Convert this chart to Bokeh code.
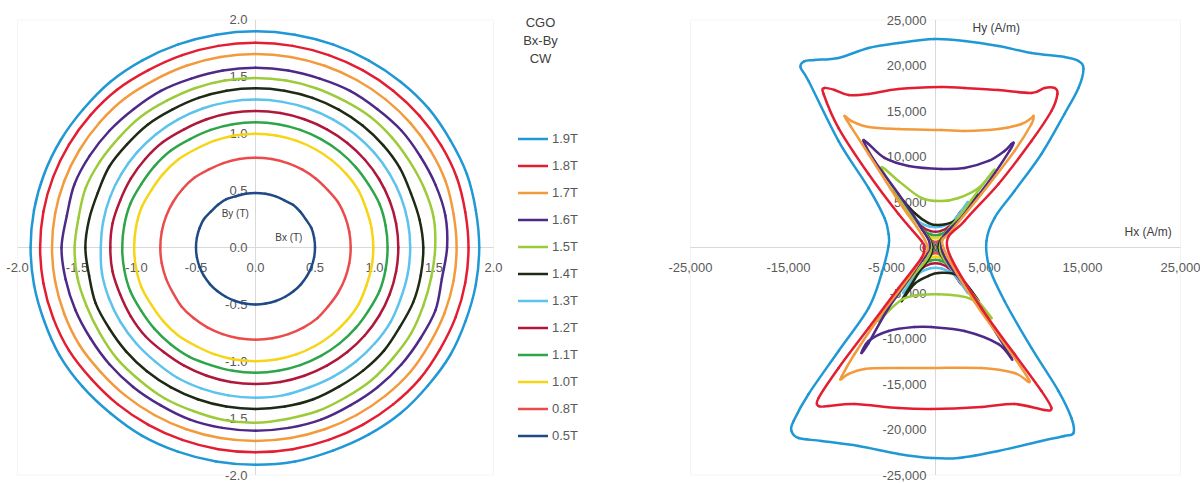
import numpy as np
from bokeh.plotting import figure
from bokeh.models import ColumnDataSource, LabelSet, Label, Legend, LegendItem, BoxAnnotation
from bokeh.layouts import row
from bokeh.embed import file_html
from bokeh.resources import INLINE
from bokeh.core.properties import value

# ---------------- data ----------------
series_names = ["1.9T", "1.8T", "1.7T", "1.6T", "1.5T", "1.4T",
                "1.3T", "1.2T", "1.1T", "1.0T", "0.8T", "0.5T"]
series_colors = ["#1F98D5", "#E41E32", "#F39A3C", "#4E2A88", "#9CCB3A", "#1E2A16",
                 "#5CC3EC", "#B0173A", "#2EA548", "#F5D515", "#EC4B4B", "#1F4A86"]

# left chart: Bx-By loci, radius (T) read every 10 degrees (0..350, CCW from +Bx)
angle_deg = [0, 10, 20, 30, 40, 50, 60, 70, 80, 90, 100, 110, 120, 130, 140, 150, 160, 170,
             180, 190, 200, 210, 220, 230, 240, 250, 260, 270, 280, 290, 300, 310, 320, 330, 340, 350]
r_19 = [1.88, 1.88, 1.89, 1.89, 1.90, 1.90, 1.90, 1.90, 1.90, 1.90, 1.90, 1.90, 1.90, 1.90, 1.89, 1.89, 1.89, 1.89,
        1.89, 1.89, 1.89, 1.90, 1.90, 1.90, 1.91, 1.91, 1.91, 1.91, 1.91, 1.90, 1.90, 1.90, 1.89, 1.89, 1.88, 1.88]
r_18 = [1.79, 1.79, 1.80, 1.80, 1.80, 1.80, 1.80, 1.80, 1.80, 1.80, 1.80, 1.80, 1.80, 1.81, 1.81, 1.81, 1.81, 1.81,
        1.81, 1.81, 1.81, 1.81, 1.80, 1.80, 1.80, 1.80, 1.80, 1.80, 1.80, 1.80, 1.80, 1.80, 1.80, 1.79, 1.79, 1.79]
r_17 = [1.69, 1.69, 1.70, 1.70, 1.70, 1.70, 1.70, 1.70, 1.70, 1.70, 1.70, 1.70, 1.70, 1.71, 1.71, 1.71, 1.71, 1.71,
        1.71, 1.71, 1.71, 1.71, 1.70, 1.70, 1.70, 1.70, 1.70, 1.70, 1.70, 1.70, 1.70, 1.70, 1.70, 1.69, 1.69, 1.69]
r_16 = [1.61, 1.62, 1.61, 1.60, 1.60, 1.59, 1.59, 1.58, 1.58, 1.58, 1.58, 1.58, 1.59, 1.59, 1.60, 1.61, 1.62, 1.61,
        1.63, 1.62, 1.61, 1.60, 1.60, 1.60, 1.60, 1.61, 1.61, 1.61, 1.61, 1.61, 1.60, 1.60, 1.60, 1.60, 1.61, 1.59]
r_15 = [1.51, 1.52, 1.51, 1.50, 1.50, 1.50, 1.49, 1.49, 1.49, 1.49, 1.49, 1.49, 1.49, 1.50, 1.50, 1.51, 1.52, 1.51,
        1.52, 1.52, 1.51, 1.51, 1.52, 1.52, 1.53, 1.53, 1.54, 1.54, 1.53, 1.53, 1.52, 1.52, 1.51, 1.51, 1.50, 1.50]
r_14 = [1.41, 1.40, 1.39, 1.40, 1.40, 1.40, 1.40, 1.40, 1.40, 1.40, 1.40, 1.40, 1.40, 1.41, 1.41, 1.42, 1.41, 1.42,
        1.43, 1.42, 1.43, 1.42, 1.42, 1.42, 1.42, 1.42, 1.42, 1.42, 1.42, 1.42, 1.41, 1.41, 1.41, 1.40, 1.41, 1.41]
r_13 = [1.30, 1.30, 1.30, 1.30, 1.30, 1.30, 1.30, 1.30, 1.30, 1.30, 1.30, 1.30, 1.30, 1.30, 1.30, 1.30, 1.30, 1.30,
        1.30, 1.31, 1.31, 1.31, 1.31, 1.31, 1.32, 1.32, 1.32, 1.32, 1.32, 1.31, 1.31, 1.31, 1.31, 1.31, 1.30, 1.30]
r_12 = [1.20, 1.20, 1.20, 1.20, 1.20, 1.20, 1.20, 1.20, 1.20, 1.20, 1.20, 1.20, 1.20, 1.21, 1.21, 1.21, 1.21, 1.22,
        1.22, 1.22, 1.21, 1.21, 1.21, 1.20, 1.20, 1.20, 1.20, 1.20, 1.20, 1.20, 1.20, 1.20, 1.20, 1.20, 1.20, 1.20]
r_11 = [1.11, 1.11, 1.11, 1.10, 1.10, 1.10, 1.10, 1.10, 1.10, 1.10, 1.10, 1.10, 1.10, 1.11, 1.11, 1.11, 1.12, 1.12,
        1.12, 1.12, 1.12, 1.11, 1.11, 1.11, 1.11, 1.10, 1.10, 1.10, 1.10, 1.10, 1.10, 1.10, 1.10, 1.10, 1.11, 1.11]
r_10 = [0.99, 0.99, 0.99, 1.00, 1.00, 1.00, 1.00, 1.00, 1.00, 1.00, 1.00, 1.00, 1.00, 1.01, 1.01, 1.01, 1.02, 1.02,
        1.02, 1.02, 1.02, 1.01, 1.01, 1.01, 1.00, 1.00, 1.00, 1.00, 1.00, 1.00, 1.00, 1.00, 1.00, 1.00, 0.99, 0.99]
r_08 = [0.80, 0.80, 0.80, 0.80, 0.79, 0.79, 0.79, 0.79, 0.79, 0.79, 0.79, 0.79, 0.79, 0.80, 0.80, 0.80, 0.80, 0.80,
        0.80, 0.80, 0.80, 0.80, 0.81, 0.81, 0.81, 0.81, 0.81, 0.81, 0.81, 0.81, 0.81, 0.81, 0.80, 0.80, 0.80, 0.80]
r_05 = [0.50, 0.50, 0.50, 0.49, 0.49, 0.49, 0.48, 0.48, 0.48, 0.48, 0.48, 0.48, 0.49, 0.49, 0.49, 0.50, 0.50, 0.50,
        0.50, 0.50, 0.50, 0.50, 0.50, 0.50, 0.50, 0.50, 0.50, 0.50, 0.50, 0.50, 0.50, 0.50, 0.50, 0.50, 0.50, 0.50]
left_radii = [r_19, r_18, r_17, r_16, r_15, r_14, r_13, r_12, r_11, r_10, r_08, r_05]

# right chart: Hx-Hy loci (A/m)
hx_19 = [-100, 2960, 6430, 9790, 13160, 14590, 15100, 14590, 13160, 10810, 8060, 6020, 5200, 5510, 7040, 9790,
         12550, 13870, 14080, 13160, 10810, 6430, 2350, -410, -3770, -7850, -11630, -13970, -14690, -14480, -12950,
         -9890, -6830, -5510, -4790, -4790, -5200, -6830, -9890, -12950, -13770, -13400, -12340, -9890, -6830, -3770, -100]
hy_19 = [22900, 22700, 22140, 21370, 20930, 20490, 19620, 17530, 14670, 10280, 6210, 3240, 710, -2250, -5880, -11040,
         -15770, -18740, -20390, -20710, -21260, -22360, -23130, -23130, -22690, -21820, -21260, -20940, -20170, -19070, -16100,
         -11370, -6650, -2910, 160, 1480, 3240, 6540, 11700, 18300, 19800, 20450, 20610, 20830, 21920, 22470, 22900]
hx_18 = [-11320, -10300, -8870, -6830, -3770, 610, 2960, 6430, 9790, 11120, 12140, 12440, 11830, 9790, 6430, 2960,
         1200, 4690, 8060, 10810, 11830, 11120, 8060, 4690, -410, -3770, -8260, -10910, -11930, -11930, -9890,
         -6830, -3770, -1430, -1200, -1430, -3770, -6830, -9890, -11420, -11320]
hy_18 = [17530, 17310, 16760, 16870, 17420, 17640, 17530, 17310, 16980, 17530, 17530, 16870, 15000, 11700, 6980, 2910,
         0, -6650, -11700, -15770, -17640, -17860, -17200, -17530, -17750, -17640, -17200, -17420, -17420, -16540, -13240,
         -8850, -4450, -1150, 0, 710, 3680, 8080, 13130, 16870, 17530]
hx_17 = [-9280, -8570, -6830, -3770, 610, 2960, 6430, 8770, 9790, 10000, 9790, 8060, 4690, 1630, 800, 4000, 7000,
         9590, 8060, 4690, -410, -3770, -7240, -8870, -9590, -9590, -8260, -5510, -2750, -1120, -800, -1430, -3770,
         -6830, -8700, -9280]
hy_17 = [14450, 13900, 13240, 13020, 12910, 12800, 13020, 13570, 14230, 14450, 13570, 10610, 5880, 1810, 0, -6000, -10500,
         -14670, -13790, -13240, -13240, -13240, -13350, -13900, -14450, -14200, -11700, -7310, -3350, -710, 0, 1480, 5110,
         10280, 13400, 14450]
hx_16 = [-7340, -6830, -5200, -2750, 610, 2960, 5410, 7040, 7750, 7960, 7550, 5710, 2960, 600, 4200, 7750, 6430,
         2960, -410, -2140, -4790, -6830, -7550, -6830, -4790, -2140, -600, -1430, -3770, -6220, -7340]
hy_16 = [11700, 11370, 9840, 8960, 8630, 8740, 9510, 10610, 11370, 11480, 10610, 7640, 3680, 0, -6000, -12140, -10610,
         -9180, -8740, -8740, -9180, -10280, -11590, -10500, -6650, -2580, 0, 2140, 5880, 9510, 11700]
hx_15 = [-5510, -3770, -1430, 610, 2350, 4390, 5920, 5600, 3000, 450, 3000, 5710, 3700, 300, -3200, -5820, -3000, -450, -3000, -5510]
hy_15 = [8740, 7310, 5440, 5110, 5440, 6540, 8410, 8000, 4200, 0, -4000, -7750, -5700, -5150, -5600, -8070, -4000, 0, 4300, 8740]
hx_14 = [-4180, -2140, -710, 410, 1940, 3370, 4180, 2200, 300, 2300, 4390, 2350, 310, -710, -2140, -3470, -1800, -300, -2100, -4180]
hy_14 = [6210, 3790, 2690, 2470, 2910, 4340, 5880, 2900, 0, -3100, -5880, -3130, -2800, -3130, -4000, -5880, -2900, 0, 3100, 6210]
hx_13 = [-3300, -1900, -600, 600, 1900, 3300, 1700, 250, 1700, 3300, 1900, 600, -600, -1900, -3300, -1700, -250, -1700, -3300]
hy_13 = [5000, 3000, 2300, 2300, 3000, 5000, 2500, 0, -2500, -5000, -3000, -2300, -2300, -3000, -5000, -2500, 0, 2500, 5000]
hx_12 = [-2600, -1500, -500, 500, 1500, 2600, 1350, 200, 1350, 2600, 1500, 500, -500, -1500, -2600, -1350, -200, -1350, -2600]
hy_12 = [4000, 2400, 1800, 1800, 2400, 4000, 2000, 0, -2000, -4000, -2400, -1800, -1800, -2400, -4000, -2000, 0, 2000, 4000]
hx_11 = [-2000, -1150, -400, 400, 1150, 2000, 1050, 150, 1050, 2000, 1150, 400, -400, -1150, -2000, -1050, -150, -1050, -2000]
hy_11 = [3100, 1850, 1400, 1400, 1850, 3100, 1550, 0, -1550, -3100, -1850, -1400, -1400, -1850, -3100, -1550, 0, 1550, 3100]
hx_10 = [-1500, -850, -300, 300, 850, 1500, 800, 120, 800, 1500, 850, 300, -300, -850, -1500, -800, -120, -800, -1500]
hy_10 = [2300, 1400, 1050, 1050, 1400, 2300, 1150, 0, -1150, -2300, -1400, -1050, -1050, -1400, -2300, -1150, 0, 1150, 2300]
hx_08 = [-900, -520, -180, 180, 520, 900, 480, 80, 480, 900, 520, 180, -180, -520, -900, -480, -80, -480, -900]
hy_08 = [1400, 850, 640, 640, 850, 1400, 700, 0, -700, -1400, -850, -640, -640, -850, -1400, -700, 0, 700, 1400]
hx_05 = [-400, -230, -80, 80, 230, 400, 220, 40, 220, 400, 230, 80, -80, -230, -400, -220, -40, -220, -400]
hy_05 = [600, 370, 280, 280, 370, 600, 300, 0, -300, -600, -370, -280, -280, -370, -600, -300, 0, 300, 600]
right_hx = [hx_19, hx_18, hx_17, hx_16, hx_15, hx_14, hx_13, hx_12, hx_11, hx_10, hx_08, hx_05]
right_hy = [hy_19, hy_18, hy_17, hy_16, hy_15, hy_14, hy_13, hy_12, hy_11, hy_10, hy_08, hy_05]

left_x_ticks = [-2.0, -1.5, -1.0, -0.5, 0.0, 0.5, 1.0, 1.5, 2.0]
left_y_ticks = [2.0, 1.5, 1.0, 0.5, 0.0, -0.5, -1.0, -1.5, -2.0]
right_x_ticks = [-25000, -15000, -5000, 5000, 15000, 25000]
right_y_ticks = [25000, 20000, 15000, 10000, 5000, 0, -5000, -10000, -15000, -20000, -25000]
legend_title = ["CGO", "Bx-By", "CW"]

# ---------------- styling ----------------
FONT = "Liberation Sans"
TXT = "#595959"
GRID = "#D9D9D9"
LW = 2.5
H = 482


def smooth(xs, ys):
    """Catmull-Rom -> cubic bezier segments through the given closed list of points."""
    P = np.column_stack([np.asarray(xs, float), np.asarray(ys, float)])
    if np.allclose(P[0], P[-1]):
        P = P[:-1]
    n = len(P)
    P0 = P[np.arange(n) - 1]
    P1 = P
    P2 = P[(np.arange(n) + 1) % n]
    P3 = P[(np.arange(n) + 2) % n]
    C0 = P1 + (P2 - P0) / 6.0
    C1 = P2 - (P3 - P1) / 6.0
    return dict(x0=P1[:, 0], y0=P1[:, 1], x1=P2[:, 0], y1=P2[:, 1],
                cx0=C0[:, 0], cy0=C0[:, 1], cx1=C1[:, 0], cy1=C1[:, 1])


def base_fig(xr, yr, w, box):
    p = figure(width=w, height=H, x_range=xr, y_range=yr,
               x_axis_type=None, y_axis_type=None, toolbar_location=None,
               output_backend="svg", min_border=0)
    p.outline_line_color = None
    p.background_fill_color = "white"
    p.border_fill_color = "white"
    x0, x1, y0, y1 = box
    p.add_layout(BoxAnnotation(left=x0, right=x1, bottom=y0, top=y1, fill_alpha=0,
                               line_color=GRID, line_width=1, level="underlay"))
    p.segment(x0=[x0, 0], y0=[0, y0], x1=[x1, 0], y1=[0, y1], line_color=GRID, line_width=1,
              level="underlay")
    return p


def tick_labels(p, xt, xl, yt, yl, xoff):
    sx = ColumnDataSource(dict(x=xt, y=[0] * len(xt), t=xl))
    sy = ColumnDataSource(dict(x=[0] * len(yt), y=yt, t=yl))
    p.add_layout(LabelSet(x="x", y="y", text="t", source=sx, y_offset=-20, text_align="center",
                          text_baseline="middle", text_font=value(FONT), text_font_size=value("13px"),
                          text_color=value(TXT), level="underlay"))
    p.add_layout(LabelSet(x="x", y="y", text="t", source=sy, x_offset=xoff, text_align="right",
                          text_baseline="middle", text_font=value(FONT), text_font_size=value("13px"),
                          text_color=value(TXT), level="underlay"))


# ---------------- left figure ----------------
# box (-2..2) spans page x 17..493 and y 19.5..474.5
pL = base_fig((-2.1429, 3.2353), (-2.0659, 2.1714), 640, (-2, 2, -2, 2))
tick_labels(pL, left_x_ticks, [f"{v:.1f}" for v in left_x_ticks],
            left_y_ticks, [f"{v:.1f}" for v in left_y_ticks], -8)

ang = np.deg2rad(np.array(angle_deg, dtype=float))
legend_renderers = {}
for name, color, rr in reversed(list(zip(series_names, series_colors, left_radii))):
    r = np.array(rr, dtype=float)
    src = ColumnDataSource(smooth(r * np.cos(ang), r * np.sin(ang)))
    legend_renderers[name] = pL.bezier(x0="x0", y0="y0", x1="x1", y1="y1", cx0="cx0", cy0="cy0",
                                       cx1="cx1", cy1="cy1", source=src, line_color=color,
                                       line_width=LW, line_cap="round")

pL.add_layout(Label(x=-0.17, y=0.295, text="By (T)", text_align="center", text_baseline="middle",
                    text_font=FONT, text_font_size="10px", text_color="#404040"))
pL.add_layout(Label(x=0.28, y=0.085, text="Bx (T)", text_align="center", text_baseline="middle",
                    text_font=FONT, text_font_size="10px", text_color="#404040"))

for i, t in enumerate(legend_title):
    pL.add_layout(Label(x=2.395, y=1.978 - i * 0.158, text=t, text_align="center",
                        text_baseline="middle", text_font=FONT, text_font_size="13px",
                        text_color="#404040"))

legend = Legend(items=[LegendItem(label=n, renderers=[legend_renderers[n]]) for n in series_names],
                location=(518, 39), orientation="vertical", margin=0, padding=0,
                border_line_alpha=0, background_fill_alpha=0,
                glyph_width=30, glyph_height=15, label_height=15, spacing=12,
                label_standoff=4, label_text_font=FONT, label_text_font_size="13px",
                label_text_color=TXT)
pL.add_layout(legend, "center")

# ---------------- right figure ----------------
# box (-25000..25000) spans page x 690..1180 and y 19.5..474.5
pR = base_fig((-30102, 27041), (-25824, 27143), 560, (-25000, 25000, -25000, 25000))
tick_labels(pR, right_x_ticks, [f"{v:,}" for v in right_x_ticks],
            right_y_ticks, [f"{v:,}" for v in right_y_ticks], -9)

for name, color, hx, hy in reversed(list(zip(series_names, series_colors, right_hx, right_hy))):
    src = ColumnDataSource(smooth(hx, hy))
    pR.bezier(x0="x0", y0="y0", x1="x1", y1="y1", cx0="cx0", cy0="cy0", cx1="cx1", cy1="cy1",
              source=src, line_color=color, line_width=LW, line_cap="round")

pR.add_layout(Label(x=6200, y=24100, text="Hy (A/m)", text_align="center", text_baseline="middle",
                    text_font=FONT, text_font_size="12px", text_color="#404040"))
pR.add_layout(Label(x=21700, y=1700, text="Hx (A/m)", text_align="center", text_baseline="middle",
                    text_font=FONT, text_font_size="12px", text_color="#404040"))

layout = row(pL, pR)
open("out.html", "w").write(file_html(layout, INLINE))
